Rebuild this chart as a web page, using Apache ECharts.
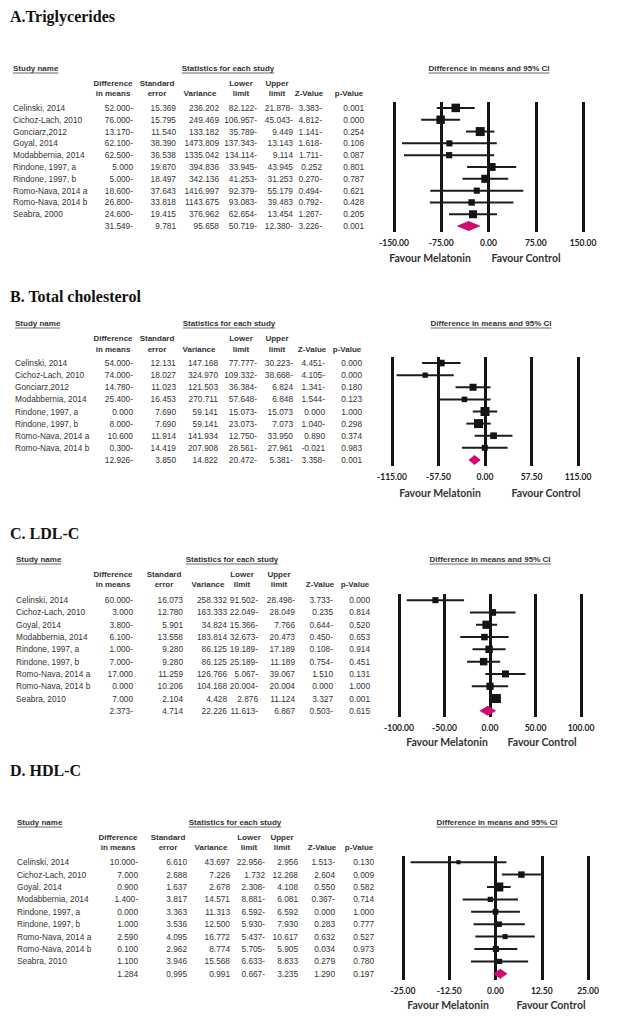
<!DOCTYPE html>
<html>
<head>
<meta charset="utf-8">
<title>Melatonin meta-analysis - forest plots</title>
<script src="https://cdn.jsdelivr.net/npm/echarts@6/dist/echarts.min.js"></script>
<style>
  html, body { margin: 0; padding: 0; background: #fff; }
  #main { width: 620px; height: 1024px; }
</style>
</head>
<body>
<div id="main"></div>
<script>
// values as printed in the tables (a trailing "-" marks a negative number)

// A. Triglycerides
const tgStudy = ['Celinski, 2014', 'Cichoz-Lach, 2010', 'Gonciarz,2012', 'Goyal, 2014', 'Modabbernia, 2014',
  'Rindone, 1997, a', 'Rindone, 1997, b', 'Romo-Nava, 2014 a', 'Romo-Nava, 2014 b', 'Seabra, 2000', ''];
const tgDiff = ['52.000-', '76.000-', '13.170-', '62.100-', '62.500-', '5.000', '5.000-', '18.600-', '26.800-', '24.600-', '31.549-'];
const tgSE = ['15.369', '15.795', '11.540', '38.390', '36.538', '19.870', '18.497', '37.643', '33.818', '19.415', '9.781'];
const tgVar = ['236.202', '249.469', '133.182', '1473.809', '1335.042', '394.836', '342.136', '1416.997', '1143.675', '376.962', '95.658'];
const tgLower = ['82.122-', '106.957-', '35.789-', '137.343-', '134.114-', '33.945-', '41.253-', '92.379-', '93.083-', '62.654-', '50.719-'];
const tgUpper = ['21.878-', '45.043-', '9.449', '13.143', '9.114', '43.945', '31.253', '55.179', '39.483', '13.454', '12.380-'];
const tgZ = ['3.383-', '4.812-', '1.141-', '1.618-', '1.711-', '0.252', '0.270-', '0.494-', '0.792-', '1.267-', '3.226-'];
const tgP = ['0.001', '0.000', '0.254', '0.106', '0.087', '0.801', '0.787', '0.621', '0.428', '0.205', '0.001'];
const tgTicks = [-150, -75, 0, 75, 150];

// B. Total cholesterol
const tcStudy = ['Celinski, 2014', 'Cichoz-Lach, 2010', 'Gonciarz,2012', 'Modabbernia, 2014', 'Rindone, 1997, a',
  'Rindone, 1997, b', 'Romo-Nava, 2014 a', 'Romo-Nava, 2014 b', ''];
const tcDiff = ['54.000-', '74.000-', '14.780-', '25.400-', '0.000', '8.000-', '10.600', '0.300-', '12.926-'];
const tcSE = ['12.131', '18.027', '11.023', '16.453', '7.690', '7.690', '11.914', '14.419', '3.850'];
const tcVar = ['147.168', '324.970', '121.503', '270.711', '59.141', '59.141', '141.934', '207.908', '14.822'];
const tcLower = ['77.777-', '109.332-', '36.384-', '57.648-', '15.073-', '23.073-', '12.750-', '28.561-', '20.472-'];
const tcUpper = ['30.223-', '38.668-', '6.824', '6.848', '15.073', '7.073', '33.950', '27.961', '5.381-'];
const tcZ = ['4.451-', '4.105-', '1.341-', '1.544-', '0.000', '1.040-', '0.890', '-0.021', '3.358-'];
const tcP = ['0.000', '0.000', '0.180', '0.123', '1.000', '0.298', '0.374', '0.983', '0.001'];
const tcTicks = [-115, -57.5, 0, 57.5, 115];

// C. LDL-C
const ldlStudy = ['Celinski, 2014', 'Cichoz-Lach, 2010', 'Goyal, 2014', 'Modabbernia, 2014', 'Rindone, 1997, a',
  'Rindone, 1997, b', 'Romo-Nava, 2014 a', 'Romo-Nava, 2014 b', 'Seabra, 2010', ''];
const ldlDiff = ['60.000-', '3.000', '3.800-', '6.100-', '1.000-', '7.000-', '17.000', '0.000', '7.000', '2.373-'];
const ldlSE = ['16.073', '12.780', '5.901', '13.558', '9.280', '9.280', '11.259', '10.206', '2.104', '4.714'];
const ldlVar = ['258.332', '163.333', '34.824', '183.814', '86.125', '86.125', '126.766', '104.168', '4.428', '22.226'];
const ldlLower = ['91.502-', '22.049-', '15.366-', '32.673-', '19.189-', '25.189-', '5.067-', '20.004-', '2.876', '11.613-'];
const ldlUpper = ['28.498-', '28.049', '7.766', '20.473', '17.189', '11.189', '39.067', '20.004', '11.124', '6.867'];
const ldlZ = ['3.733-', '0.235', '0.644-', '0.450-', '0.108-', '0.754-', '1.510', '0.000', '3.327', '0.503-'];
const ldlP = ['0.000', '0.814', '0.520', '0.653', '0.914', '0.451', '0.131', '1.000', '0.001', '0.615'];
const ldlTicks = [-100, -50, 0, 50, 100];

// D. HDL-C
const hdlStudy = ['Celinski, 2014', 'Cichoz-Lach, 2010', 'Goyal, 2014', 'Modabbernia, 2014', 'Rindone, 1997, a',
  'Rindone, 1997, b', 'Romo-Nava, 2014 a', 'Romo-Nava, 2014 b', 'Seabra, 2010', ''];
const hdlDiff = ['10.000-', '7.000', '0.900', '1.400-', '0.000', '1.000', '2.590', '0.100', '1.100', '1.284'];
const hdlSE = ['6.610', '2.688', '1.637', '3.817', '3.363', '3.536', '4.095', '2.962', '3.946', '0.995'];
const hdlVar = ['43.697', '7.226', '2.678', '14.571', '11.313', '12.500', '16.772', '8.774', '15.568', '0.991'];
const hdlLower = ['22.956-', '1.732', '2.308-', '8.881-', '6.592-', '5.930-', '5.437-', '5.705-', '6.633-', '0.667-'];
const hdlUpper = ['2.956', '12.268', '4.108', '6.081', '6.592', '7.930', '10.617', '5.905', '8.833', '3.235'];
const hdlZ = ['1.513-', '2.604', '0.550', '0.367-', '0.000', '0.283', '0.632', '0.034', '0.279', '1.290'];
const hdlP = ['0.130', '0.009', '0.582', '0.714', '1.000', '0.777', '0.527', '0.973', '0.780', '0.197'];
const hdlTicks = [-25, -12.5, 0, 12.5, 25];

const colHeads = [['Difference', 'in means'], ['Standard', 'error'], ['', 'Variance'], ['Lower', 'limit'],
  ['Upper', 'limit'], ['', 'Z-Value'], ['', 'p-Value']];

// layout of each panel (pixels)
const panels = [
  { title: 'A.Triglycerides', titleY: 16, headY: 68, colHeadY: [83, 93],
    study: tgStudy, cols: [tgDiff, tgSE, tgVar, tgLower, tgUpper, tgZ, tgP], ticks: tgTicks,
    grid: { left: 394, top: 102, width: 189, height: 130 },
    nameX: 13, colRight: [133, 176, 219, 257, 293, 322, 364],
    statX: 228, diffX: 489, favourY: 258, favourX: [430, 526] },
  { title: 'B. Total cholesterol', titleY: 296, headY: 323, colHeadY: [338, 349],
    study: tcStudy, cols: [tcDiff, tcSE, tcVar, tcLower, tcUpper, tcZ, tcP], ticks: tcTicks,
    grid: { left: 392, top: 357, width: 186, height: 109 },
    nameX: 15, colRight: [133, 176, 218, 257, 293, 325, 362],
    statX: 229, diffX: 491, favourY: 493, favourX: [440, 546] },
  { title: 'C. LDL-C', titleY: 533, headY: 559, colHeadY: [574, 584],
    study: ldlStudy, cols: [ldlDiff, ldlSE, ldlVar, ldlLower, ldlUpper, ldlZ, ldlP], ticks: ldlTicks,
    grid: { left: 399, top: 594, width: 182, height: 123 },
    nameX: 16, colRight: [133, 183, 227, 258, 295, 333, 370],
    statX: 232, diffX: 490, favourY: 742, favourX: [447, 542] },
  { title: 'D. HDL-C', titleY: 770, headY: 822, colHeadY: [837, 847],
    study: hdlStudy, cols: [hdlDiff, hdlSE, hdlVar, hdlLower, hdlUpper, hdlZ, hdlP], ticks: hdlTicks,
    grid: { left: 403, top: 856, width: 185, height: 124 },
    nameX: 17, colRight: [138, 187, 230, 265, 298, 335, 374],
    statX: 235, diffX: 497, favourY: 1005, favourX: [448, 551] }
];
const headShift = [20, 19, 19, 16, 16, 13, 15];

const TABLE_FONT = "'Liberation Sans', Arial, sans-serif";
const HEAD_FONT = "bold 8px 'Liberation Sans', Arial, sans-serif";

function num(s) {
  return s.endsWith('-') ? -parseFloat(s) : parseFloat(s);
}

// between-study variance that reproduces the pooled variance printed in the table
function solveTau2(vars, pooledVar) {
  const pooled = t => 1 / vars.reduce((a, v) => a + 1 / (v + t), 0);
  if (pooled(0) >= pooledVar) return 0;
  let lo = 0, hi = 1e5;
  for (let k = 0; k < 60; k++) {
    const mid = (lo + hi) / 2;
    if (pooled(mid) < pooledVar) lo = mid; else hi = mid;
  }
  return (lo + hi) / 2;
}

const measureCtx = document.createElement('canvas').getContext('2d');
function textWidth(str, font) {
  measureCtx.font = font;
  return measureCtx.measureText(str).width;
}

function txt(str, x, y, font, align, color) {
  return {
    type: 'text', x: x, y: y, silent: true,
    style: { text: str, font: font, fill: color || '#333',
      align: align || 'left', verticalAlign: 'middle',
      textAlign: align || 'left', textVerticalAlign: 'middle' }
  };
}

// underlined header (text + thin line below)
function underlined(str, x, y, align, out) {
  const w = textWidth(str, HEAD_FONT);
  const x1 = align === 'center' ? x - w / 2 : x;
  out.push(txt(str, x, y, HEAD_FONT, align));
  out.push({ type: 'line', silent: true,
    shape: { x1: x1, y1: y + 5, x2: x1 + w, y2: y + 5 },
    style: { stroke: '#444', lineWidth: 0.8 } });
}

function tableAxis(gridIndex, labels, margin, align) {
  return {
    type: 'category', gridIndex: gridIndex, position: 'left', inverse: true,
    data: labels.map((_, k) => k),
    axisLine: { show: false }, axisTick: { show: false }, splitLine: { show: false },
    axisLabel: {
      interval: 0, margin: margin, align: align,
      fontFamily: TABLE_FONT, fontSize: 8.3, color: '#333',
      formatter: (v, idx) => labels[idx]
    }
  };
}

function forestItem(tau2, maxW) {
  return function (params, api) {
    const row = api.value(1);
    const mid = api.coord([api.value(0), row]);
    const lo = api.coord([api.value(2), row]);
    const hi = api.coord([api.value(3), row]);
    if (api.value(5)) {
      // pooled estimate
      return {
        type: 'polygon',
        shape: { points: [[lo[0], mid[1]], [mid[0], mid[1] - 5], [hi[0], mid[1]], [mid[0], mid[1] + 5]] },
        style: { fill: '#d20a6e' }
      };
    }
    const w = 1 / (api.value(4) + tau2);
    const s = 2.5 + 6.5 * Math.sqrt(w / maxW);
    return {
      type: 'group',
      children: [
        { type: 'line', shape: { x1: lo[0], y1: lo[1], x2: hi[0], y2: hi[1] },
          style: { stroke: '#1c1c1c', lineWidth: 2 } },
        { type: 'rect', shape: { x: mid[0] - s / 2, y: mid[1] - s / 2, width: s, height: s },
          style: { fill: '#141414' } }
      ]
    };
  };
}

const grids = [], xAxes = [], yAxes = [], series = [], graphics = [];

panels.forEach((p, i) => {
  const g = p.grid;
  grids.push({ left: g.left, top: g.top, width: g.width, height: g.height });

  xAxes.push({
    type: 'value', gridIndex: i,
    min: p.ticks[0], max: p.ticks[p.ticks.length - 1], interval: p.ticks[1] - p.ticks[0],
    axisLine: { show: false }, axisTick: { show: false },
    splitLine: { show: true, showMinLine: true, showMaxLine: true, lineStyle: { color: '#151515', width: 3 } },
    axisLabel: {
      margin: 6, formatter: v => v.toFixed(2), showMinLabel: true, showMaxLabel: true,
      fontFamily: "Lato, 'Liberation Sans', sans-serif", fontWeight: 'bold', fontSize: 8.5, color: '#222'
    }
  });

  const firstY = yAxes.length;
  yAxes.push(tableAxis(i, p.study, g.left - p.nameX, 'left'));
  p.cols.forEach((col, c) => yAxes.push(tableAxis(i, col, g.left - p.colRight[c], 'right')));

  const last = p.study.length - 1;
  const data = p.study.map((_, k) => [
    num(p.cols[0][k]), k, num(p.cols[3][k]), num(p.cols[4][k]), num(p.cols[2][k]), k === last ? 1 : 0
  ]);
  const studyVars = data.filter(d => !d[5]).map(d => d[4]);
  const tau2 = solveTau2(studyVars, data[last][4]);
  const maxW = Math.max(...studyVars.map(v => 1 / (v + tau2)));
  series.push({
    type: 'custom', xAxisIndex: i, yAxisIndex: firstY, silent: true, z: 5,
    data: data, encode: { x: [0, 2, 3], y: 1 },
    renderItem: forestItem(tau2, maxW)
  });

  // texts
  graphics.push(txt(p.title, 10, p.titleY, "bold 16px 'Liberation Serif', 'Times New Roman', serif", 'left', '#111'));
  underlined('Study name', p.nameX, p.headY, 'left', graphics);
  underlined('Statistics for each study', p.statX, p.headY, 'center', graphics);
  underlined('Difference in means and 95% CI', p.diffX, p.headY, 'center', graphics);
  colHeads.forEach((h, c) => {
    const cx = p.colRight[c] - headShift[c];
    if (h[0]) graphics.push(txt(h[0], cx, p.colHeadY[0], HEAD_FONT, 'center'));
    graphics.push(txt(h[1], cx, p.colHeadY[1], HEAD_FONT, 'center'));
  });
  const favFont = "bold 10.5px Lato, 'Liberation Sans', sans-serif";
  graphics.push(txt('Favour Melatonin', p.favourX[0], p.favourY, favFont, 'center', '#333'));
  graphics.push(txt('Favour Control', p.favourX[1], p.favourY, favFont, 'center', '#333'));
});

const chart = echarts.init(document.getElementById('main'), null, { renderer: 'svg' });
chart.setOption({
  backgroundColor: '#fff',
  animation: false,
  grid: grids,
  xAxis: xAxes,
  yAxis: yAxes,
  series: series,
  graphic: { elements: graphics }
});
window.addEventListener('resize', function () { chart.resize(); });
</script>
</body>
</html>
